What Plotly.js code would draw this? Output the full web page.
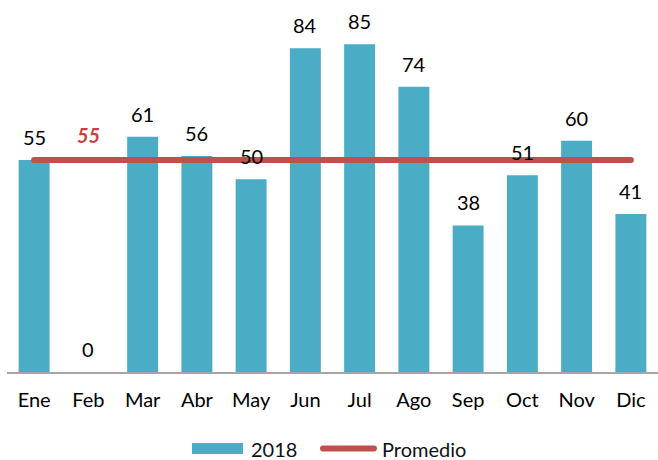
<!DOCTYPE html>
<html>
<head>
<meta charset="utf-8">
<script src="https://cdn.plot.ly/plotly-3.0.1.min.js"></script>
<style>html,body{margin:0;padding:0;background:#fff;}#chart{width:658px;height:460px;}
.scatterlayer path.js-line{stroke-linecap:round !important;}
.layer-above path, .shapelayer path{stroke-linecap:round !important;}
</style>
</head>
<body>
<div id="chart"></div>
<script>
const meses = ["Ene","Feb","Mar","Abr","May","Jun","Jul","Ago","Sep","Oct","Nov","Dic"];
const valores2018 = [55,0,61,56,50,84,85,74,38,51,60,41];
const promedio = [55,55,55,55,55,55,55,55,55,55,55,55];
const promedioLabelIndex = 1;

const FONT = "Lato, 'DejaVu Sans', sans-serif";
const barColor = "#4BACC6";
const lineColor = "#C0504D";

const traces = [
  {
    type: "bar", x: meses, y: valores2018, name: "2018",
    marker: {color: barColor, line: {width: 0}},
    hoverinfo: "skip"
  },
  {
    type: "scatter", mode: "lines", x: meses, y: promedio, name: "Promedio",
    line: {color: lineColor, width: 6}, hoverinfo: "skip"
  }
];

const annotations = meses.map((m, i) => ({
  x: m, y: valores2018[i], xref: "x", yref: "y",
  text: String(valores2018[i]), showarrow: false,
  yanchor: "bottom", yshift: 9,
  font: {family: FONT, size: 20, color: "#000"}
}));
annotations.push({
  x: meses[promedioLabelIndex], y: promedio[promedioLabelIndex], xref: "x", yref: "y",
  text: "<b><i>" + promedio[promedioLabelIndex] + "</i></b>", showarrow: false,
  yanchor: "bottom", yshift: 11,
  font: {family: FONT, size: 20, color: "#C8403E"}
});
// legend texts
annotations.push({x: 0.3717, y: -0.2205, xref: "paper", yref: "paper", xanchor: "left", yanchor: "middle",
  text: "2018", showarrow: false, font: {family: FONT, size: 20, color: "#111"}});
annotations.push({x: 0.573, y: -0.2205, xref: "paper", yref: "paper", xanchor: "left", yanchor: "middle",
  text: "Promedio", showarrow: false, font: {family: FONT, size: 20, color: "#111"}});

const shapes = [
  {type: "rect", xref: "paper", yref: "paper", x0: 0.2842, x1: 0.3625, y0: -0.2046, y1: -0.2363,
   fillcolor: barColor, line: {width: 0}},
  {type: "line", xref: "paper", yref: "paper", x0: 0.4854, x1: 0.5637, y0: -0.2205, y1: -0.2205,
   line: {color: lineColor, width: 6}}
];

const layout = {
  width: 658, height: 460,
  margin: {l: 7, r: 0, t: 25, b: 88},
  paper_bgcolor: "#fff", plot_bgcolor: "#fff",
  showlegend: false,
  bargap: 0.43,
  font: {family: FONT, size: 20, color: "#000"},
  xaxis: {
    type: "category", showgrid: false, zeroline: false,
    showline: true, linecolor: "#A6A6A6", linewidth: 2,
    ticks: "outside", ticklen: 9, tickcolor: "rgba(0,0,0,0)",
    tickfont: {family: FONT, size: 20, color: "#000"}
  },
  yaxis: {range: [0, 90], visible: false, showgrid: false, zeroline: false},
  annotations: annotations,
  shapes: shapes
};

Plotly.newPlot("chart", traces, layout, {displayModeBar: false, staticPlot: true});
</script>
</body>
</html>
